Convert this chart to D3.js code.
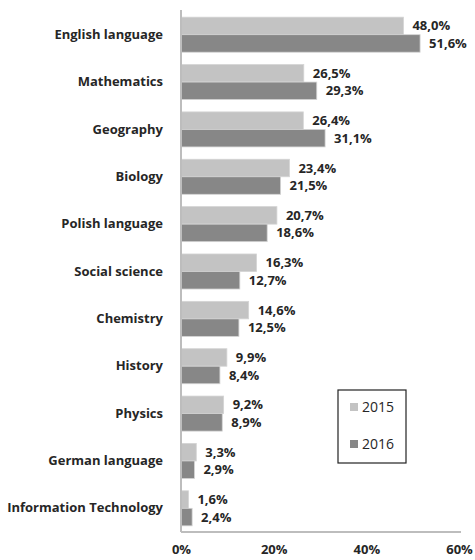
<!DOCTYPE html>
<html>

<head>
    <meta charset="UTF-8">
    <title>Subjects</title>
    <script src="https://d3js.org/d3.v7.min.js"></script>
    <style>
        body {
            margin: 0;
            background-color: white;
        }
        text {
            font-family: "Open Sans", sans-serif;
            font-weight: bold;
            fill: #262626;
        }
    </style>
</head>

<body>
    <div id="chart">
    </div>
    <script>
        (function(d3) {

            var categories = ['English language', 'Mathematics', 'Geography', 'Biology', 'Polish language',
                'Social science', 'Chemistry', 'History', 'Physics', 'German language', 'Information Technology'];
            var years = ['2015', '2016'];
            var values2015 = [48.0, 26.5, 26.4, 23.4, 20.7, 16.3, 14.6, 9.9, 9.2, 3.3, 1.6];
            var values2016 = [51.6, 29.3, 31.1, 21.5, 18.6, 12.7, 12.5, 8.4, 8.9, 2.9, 2.4];
            var xTicks = [0, 20, 40, 60];

            var width = 475;
            var height = 560;
            var left = 181, right = 459, top = 11, bottom = 532;

            var svg = d3.select('#chart')
                .append('svg')
                    .attr('width', width)
                    .attr('height', height);

            var x = d3.scaleLinear().domain([0, 60]).range([left, right]);
            var y = d3.scaleBand().domain(categories).range([top, bottom])
                .paddingInner(0.26).paddingOuter(0.13);
            var sub = d3.scaleBand().domain(years).range([0, y.bandwidth()]);
            var color = d3.scaleOrdinal().domain(years).range(['#c3c3c3', '#878787']);

            var fmt = function(v) { return v.toFixed(1).replace('.', ',') + '%'; };

            var rows = categories.map(function(c, i) {
                return { cat: c, vals: [
                    { year: '2015', v: values2015[i] },
                    { year: '2016', v: values2016[i] }
                ] };
            });

            var group = svg.selectAll('.cat')
                .data(rows)
                .enter()
                .append('g')
                .attr('class', 'cat')
                .attr('transform', function(d) { return 'translate(0,' + y(d.cat) + ')'; });

            group.selectAll('rect')
                .data(function(d) { return d.vals; })
                .enter()
                .append('rect')
                .attr('x', x(0))
                .attr('y', function(d) { return sub(d.year); })
                .attr('width', function(d) { return x(d.v) - x(0); })
                .attr('height', sub.bandwidth())
                .attr('fill', function(d) { return color(d.year); })
                .attr('stroke', '#d4d4d4')
                .attr('stroke-width', 0.8);

            group.selectAll('.val')
                .data(function(d) { return d.vals; })
                .enter()
                .append('text')
                .attr('class', 'val')
                .attr('x', function(d) { return x(d.v) + 9; })
                .attr('y', function(d) { return sub(d.year) + sub.bandwidth() / 2; })
                .attr('dy', '0.35em')
                .style('font-size', '13px')
                .text(function(d) { return fmt(d.v); });

            // category labels
            var yAxis = svg.append('g')
                .attr('transform', 'translate(' + left + ',0)')
                .call(d3.axisLeft(y).tickSize(0).tickPadding(18));
            yAxis.select('.domain').remove();
            yAxis.selectAll('text').style('font-size', '13px').attr('fill', '#262626');

            var xAxis = svg.append('g')
                .attr('transform', 'translate(0,' + (bottom + 7) + ')')
                .call(d3.axisBottom(x).tickValues(xTicks).tickSize(0).tickPadding(6)
                    .tickFormat(function(d) { return d + '%'; }));
            xAxis.select('.domain').remove();
            xAxis.selectAll('text').style('font-size', '13px').attr('fill', '#262626');

            // axis lines
            svg.append('line')
                .attr('x1', left).attr('x2', left)
                .attr('y1', top - 1).attr('y2', bottom)
                .attr('stroke', '#bdbdbd').attr('stroke-width', 2);
            svg.append('line')
                .attr('x1', left).attr('x2', right + 2)
                .attr('y1', bottom).attr('y2', bottom)
                .attr('stroke', '#bdbdbd').attr('stroke-width', 2);

            // legend
            var legend = svg.append('g').attr('transform', 'translate(338,390)');
            legend.append('rect')
                .attr('width', 68).attr('height', 73)
                .attr('fill', 'white').attr('stroke', '#222').attr('stroke-width', 1.2);
            var item = legend.selectAll('.legend')
                .data(years)
                .enter()
                .append('g')
                .attr('class', 'legend')
                .attr('transform', function(d, i) { return 'translate(12,' + (13 + i * 37) + ')'; });
            item.append('rect')
                .attr('width', 8).attr('height', 8)
                .attr('fill', color);
            item.append('text')
                .attr('x', 12).attr('y', 4)
                .attr('dy', '0.35em')
                .style('font-size', '14px')
                .style('font-weight', 'normal')
                .text(function(d) { return d; });

        })(window.d3);
    </script>
</body>

</html>
